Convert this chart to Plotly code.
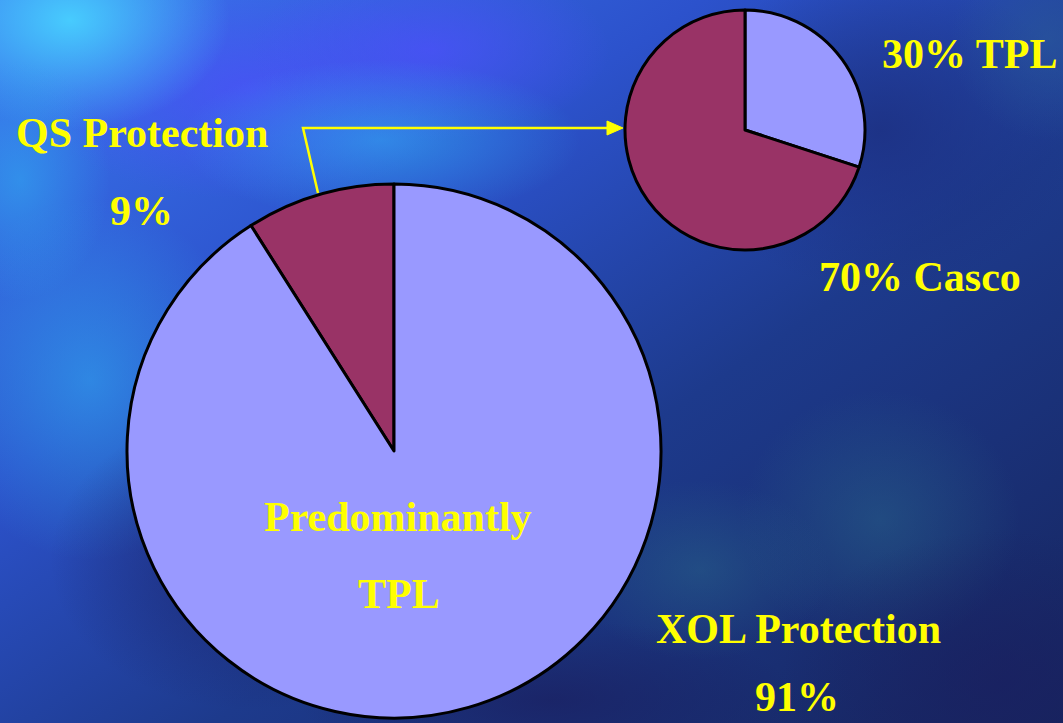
import base64
import plotly.graph_objects as go

W, H = 1063, 723

# ---- data ----
main_labels = ["QS Protection", "XOL Protection"]
main_values = [9, 91]
sub_labels = ["TPL", "Casco"]
sub_values = [30, 70]

C_LIGHT = "#9999FF"
C_DARK = "#993366"
YELLOW = "#FFFF00"

# ---- background (decorative slide texture, as an SVG image) ----
svg = f"""<svg xmlns='http://www.w3.org/2000/svg' width='{W}' height='{H}' viewBox='0 0 {W} {H}'>
<defs>
<linearGradient id='base' x1='0' y1='0' x2='1' y2='1'>
<stop offset='0' stop-color='#3b78f0'/>
<stop offset='0.33' stop-color='#2c52cc'/>
<stop offset='0.6' stop-color='#1d3a8c'/>
<stop offset='1' stop-color='#16255e'/>
</linearGradient>
<radialGradient id='cy'><stop offset='0' stop-color='#48d0ff' stop-opacity='0.95'/><stop offset='1' stop-color='#48d0ff' stop-opacity='0'/></radialGradient>
<radialGradient id='cy2'><stop offset='0' stop-color='#30a8f0' stop-opacity='0.6'/><stop offset='1' stop-color='#30a8f0' stop-opacity='0'/></radialGradient>
<radialGradient id='pu'><stop offset='0' stop-color='#4c50fa' stop-opacity='0.75'/><stop offset='1' stop-color='#4c50fa' stop-opacity='0'/></radialGradient>
<radialGradient id='te'><stop offset='0' stop-color='#2a6a8c' stop-opacity='0.45'/><stop offset='1' stop-color='#2a6a8c' stop-opacity='0'/></radialGradient>
<radialGradient id='nv'><stop offset='0' stop-color='#1a1f60' stop-opacity='0.7'/><stop offset='1' stop-color='#1a1f60' stop-opacity='0'/></radialGradient>
<radialGradient id='nv2'><stop offset='0' stop-color='#1c2f80' stop-opacity='0.8'/><stop offset='1' stop-color='#1c2f80' stop-opacity='0'/></radialGradient>
<radialGradient id='tr'><stop offset='0' stop-color='#2a5a9a' stop-opacity='0.6'/><stop offset='1' stop-color='#2a5a9a' stop-opacity='0'/></radialGradient>
</defs>
<rect width='{W}' height='{H}' fill='url(#base)'/>
<ellipse cx='250' cy='90' rx='220' ry='110' fill='url(#pu)'/>
<ellipse cx='430' cy='50' rx='180' ry='90' fill='url(#pu)'/>
<ellipse cx='70' cy='20' rx='160' ry='110' fill='url(#cy)'/>
<ellipse cx='90' cy='380' rx='160' ry='180' fill='url(#cy2)'/>
<ellipse cx='20' cy='180' rx='90' ry='120' fill='url(#cy2)'/>
<ellipse cx='380' cy='140' rx='200' ry='80' fill='url(#cy2)'/>
<ellipse cx='880' cy='130' rx='200' ry='160' fill='url(#nv2)'/>
<ellipse cx='880' cy='520' rx='140' ry='130' fill='url(#te)'/>
<ellipse cx='700' cy='570' rx='130' ry='90' fill='url(#te)'/>
<ellipse cx='1050' cy='40' rx='100' ry='100' fill='url(#tr)'/>
<ellipse cx='250' cy='560' rx='200' ry='150' fill='url(#nv)'/>
<ellipse cx='1000' cy='680' rx='220' ry='150' fill='url(#nv)'/>
<ellipse cx='550' cy='700' rx='250' ry='80' fill='url(#nv)'/>
</svg>"""
bg_src = "data:image/svg+xml;base64," + base64.b64encode(svg.encode()).decode()

# ---- layout geometry (pixels) ----
def dom_x(cx, r):
    return [(cx - r) / W, (cx + r) / W]

def dom_y(cy, r):
    return [(H - cy - r) / H, (H - cy + r) / H]

big_c, big_r = (394, 451), 267
small_c, small_r = (745, 130), 120

# first (QS) slice ends at 12 o'clock, drawn to its left
qs_share = main_values[0] / sum(main_values)

fig = go.Figure()
fig.add_trace(go.Pie(
    labels=main_labels, values=main_values, sort=False,
    direction="clockwise", rotation=-360 * qs_share,
    marker=dict(colors=[C_DARK, C_LIGHT], line=dict(color="black", width=3)),
    textinfo="none", hoverinfo="label+percent", showlegend=False,
    domain=dict(x=dom_x(big_c[0], big_r), y=dom_y(big_c[1], big_r)),
))
fig.add_trace(go.Pie(
    labels=sub_labels, values=sub_values, sort=False,
    direction="clockwise", rotation=0,
    marker=dict(colors=[C_LIGHT, C_DARK], line=dict(color="black", width=3)),
    textinfo="none", hoverinfo="label+percent", showlegend=False,
    domain=dict(x=dom_x(small_c[0], small_r), y=dom_y(small_c[1], small_r)),
))

FONT = dict(family="'Times New Roman', 'Liberation Serif', serif", size=42, color=YELLOW)

texts = [
    ("QS Protection", 142, 133),
    (f"{main_values[0]}%", 141, 211),
    (f"{sub_values[0]}% {sub_labels[0]}", 969, 54),
    (f"{sub_values[1]}% {sub_labels[1]}", 920, 277),
    ("Predominantly", 398, 517),
    ("TPL", 399, 594),
    ("XOL Protection", 798, 629),
    (f"{main_values[1]}%", 797, 697),
]
annotations = []
for t, x, y in texts:
    annotations.append(dict(
        text=f"<b>{t}</b>", x=x, y=y, xref="x", yref="y",
        xanchor="center", yanchor="middle", showarrow=False, font=FONT,
    ))

shapes = [
    dict(type="path", xref="x", yref="y",
         path="M 318 193 L 303 128 L 608 128",
         line=dict(color=YELLOW, width=2.5)),
    dict(type="path", xref="x", yref="y",
         path="M 607 121 L 623 128 L 607 135 Z",
         fillcolor=YELLOW, line=dict(color=YELLOW, width=1)),
]

fig.update_layout(
    width=W, height=H,
    margin=dict(l=0, r=0, t=0, b=0),
    paper_bgcolor="#1d3a8c", plot_bgcolor="rgba(0,0,0,0)",
    xaxis=dict(range=[0, W], visible=False, fixedrange=True),
    yaxis=dict(range=[H, 0], visible=False, fixedrange=True),
    images=[dict(source=bg_src, xref="paper", yref="paper", x=0, y=1,
                 sizex=1, sizey=1, sizing="stretch", layer="below", xanchor="left", yanchor="top")],
    annotations=annotations,
    shapes=shapes,
    showlegend=False,
)

fig.write_html("out.html")
